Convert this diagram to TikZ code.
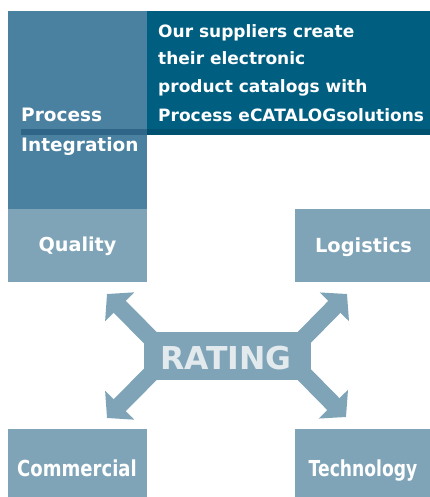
\documentclass[tikz,border=0pt]{standalone}
\usepackage{fontspec}
\setmainfont{DejaVu Sans}
\usetikzlibrary{arrows.meta}
\definecolor{procblue}{HTML}{4B81A0}
\definecolor{lightbox}{HTML}{80A4B7}
\definecolor{teal}{HTML}{005F80}
\definecolor{tealdark}{HTML}{00506F}
\definecolor{stripleft}{HTML}{2F6586}
\definecolor{ratingtext}{HTML}{E2EAEE}
\tikzset{
  boxnode/.style={anchor=north west, inner sep=0pt, outer sep=0pt, draw=none},
  wtext/.style={text=white, inner sep=0pt, font=\bfseries\fontsize{18.5}{22}\selectfont},
  ttext/.style={text=white, inner sep=0pt, anchor=base west, font=\bfseries\fontsize{17}{20}\selectfont},
  rarrow/.style={draw=lightbox, line width=17pt, line cap=butt, -{Triangle[length=18pt,width=40pt]}}
}
\begin{document}
\begin{tikzpicture}[x=1pt,y=-1pt]
\useasboundingbox (0,0) rectangle (430,497);
\fill[white] (0,0) rectangle (430,497);
% boxes
\node[boxnode, fill=procblue, minimum width=139pt, minimum height=198pt] (proc) at (8,11) {};
\node[boxnode, fill=lightbox, minimum width=139pt, minimum height=72.5pt] (quality) at (8,209) {};
\node[boxnode, fill=lightbox, minimum width=135pt, minimum height=73pt] (logistics) at (295,208.5) {};
\node[boxnode, fill=lightbox, minimum width=139pt, minimum height=68pt] (commercial) at (8,429) {};
\node[boxnode, fill=lightbox, minimum width=135pt, minimum height=68pt] (technology) at (295,429) {};
\node[boxnode, fill=teal, minimum width=283pt, minimum height=118pt] (suppliers) at (147,11) {};
\node[boxnode, fill=tealdark, minimum width=283pt, minimum height=6pt] (tealstrip) at (147,129) {};
\node[boxnode, fill=stripleft, minimum width=126pt, minimum height=6pt] (procstrip) at (21,129) {};
% texts in teal block
\node[ttext] (s1) at (158,37.5) {Our suppliers create};
\node[ttext] (s2) at (158,65) {their electronic};
\node[ttext] (s3) at (158,92.7) {product catalogs with};
\node[ttext] (s4) at (158,121.7) {Process eCATALOGsolutions};
% process integration
\node[wtext, anchor=base west] (p1) at (21,121.7) {Process};
\node[wtext, anchor=base west] (p2) at (21,152) {Integration};
% box labels
\node[wtext, anchor=base, font=\bfseries\fontsize{19.2}{22}\selectfont] (qlabel) at (77.5,251.7) {Quality};
\node[wtext, anchor=base, font=\bfseries\fontsize{19.4}{22}\selectfont] (llabel) at (363.5,252) {Logistics};
\node[wtext, anchor=base, font=\bfseries\fontsize{22}{24}\selectfont] (clabel) at (77,476) {\scalebox{0.82}[1]{Commercial}};
\node[wtext, anchor=base, font=\bfseries\fontsize{22}{24}\selectfont] (tlabel) at (363,476) {\scalebox{0.78}[1]{Technology}};
% rating arrows
\coordinate (cl) at (168.5,356);
\coordinate (cr) at (286,356);
\coordinate (tul) at (107,294);
\coordinate (tll) at (107,418);
\coordinate (tur) at (347,294);
\coordinate (tlr) at (346,417);
\draw[rarrow] (cl) -- (tul);
\draw[rarrow] (cl) -- (tll);
\draw[rarrow] (cr) -- (tur);
\draw[rarrow] (cr) -- (tlr);
\node[fill=lightbox, minimum width=167pt, minimum height=48pt, inner sep=0pt, outer sep=0pt] (rating) at (227.5,356) {};
\node[inner sep=0pt, anchor=base, text=ratingtext, font=\bfseries\fontsize{31.5}{34}\selectfont] (rlabel) at (226,369) {RATING};
\end{tikzpicture}
\end{document}
